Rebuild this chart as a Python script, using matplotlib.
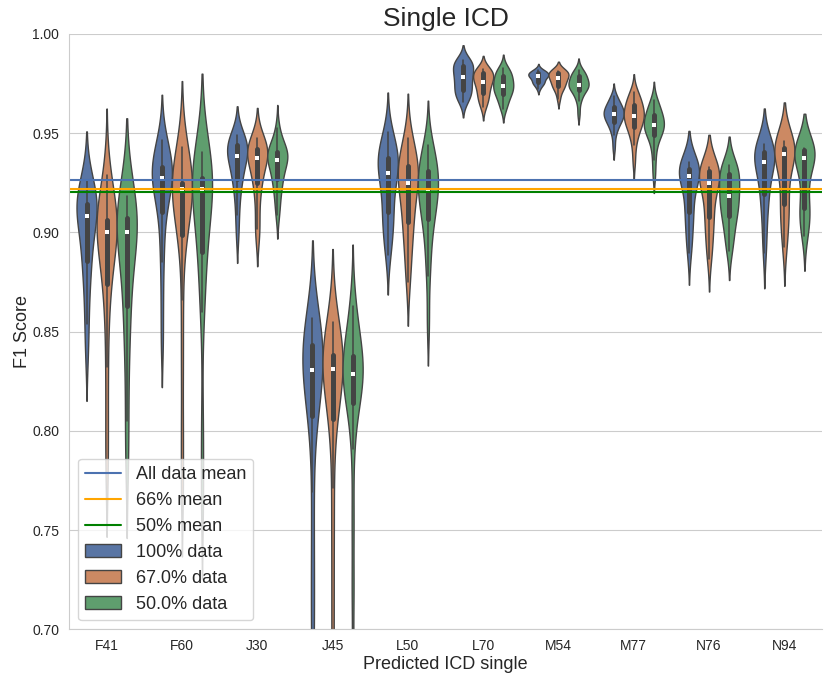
import numpy as np
import pandas as pd
import matplotlib
matplotlib.use("Agg")
import matplotlib.pyplot as plt
import seaborn as sns
from matplotlib.lines import Line2D
from matplotlib.patches import Patch

# ---------------- data ----------------
categories = ["F41", "F60", "J30", "J45", "L50", "L70", "M54", "M77", "N76", "N94"]
fractions = ["100% data", "67.0% data", "50.0% data"]

scores_100 = {
    "F41": [0.840, 0.854, 0.866, 0.876, 0.884, 0.886, 0.892, 0.898, 0.903, 0.907, 0.910, 0.912, 0.913, 0.914, 0.914, 0.915, 0.918, 0.921, 0.924, 0.926],
    "F60": [0.845, 0.866, 0.885, 0.895, 0.909, 0.911, 0.917, 0.922, 0.925, 0.927, 0.928, 0.929, 0.930, 0.931, 0.932, 0.935, 0.938, 0.941, 0.944, 0.9464],
    "J30": [0.899, 0.9086, 0.916, 0.922, 0.926, 0.9275, 0.931, 0.934, 0.936, 0.938, 0.9394, 0.940, 0.941, 0.942, 0.9435, 0.945, 0.946, 0.947, 0.948, 0.9492],
    "J45": [0.690, 0.715, 0.740, 0.7692, 0.800, 0.8099, 0.815, 0.821, 0.826, 0.830, 0.8314, 0.834, 0.837, 0.840, 0.843, 0.844, 0.847, 0.850, 0.854, 0.857],
    "L50": [0.8886, 0.895, 0.900, 0.905, 0.909, 0.9105, 0.916, 0.922, 0.926, 0.929, 0.931, 0.933, 0.935, 0.936, 0.937, 0.939, 0.941, 0.944, 0.947, 0.9506],
    "L70": [0.9655, 0.967, 0.969, 0.970, 0.971, 0.9718, 0.973, 0.975, 0.976, 0.978, 0.9784, 0.979, 0.981, 0.982, 0.984, 0.984, 0.985, 0.986, 0.986, 0.9868],
    "M54": [0.9725, 0.974, 0.975, 0.9755, 0.9757, 0.9758, 0.977, 0.978, 0.9783, 0.9785, 0.9787, 0.979, 0.9795, 0.980, 0.9802, 0.9802, 0.9806, 0.981, 0.9815, 0.982],
    "M77": [0.943, 0.9492, 0.952, 0.954, 0.9555, 0.9558, 0.957, 0.958, 0.959, 0.9595, 0.9599, 0.960, 0.961, 0.962, 0.963, 0.963, 0.964, 0.966, 0.967, 0.9687],
    "N76": [0.8895, 0.895, 0.900, 0.905, 0.910, 0.9107, 0.915, 0.920, 0.924, 0.928, 0.9292, 0.930, 0.931, 0.931, 0.932, 0.932, 0.933, 0.934, 0.934, 0.9353],
    "N94": [0.8895, 0.898, 0.906, 0.913, 0.918, 0.9195, 0.924, 0.929, 0.932, 0.935, 0.9364, 0.937, 0.938, 0.939, 0.9405, 0.941, 0.942, 0.943, 0.944, 0.9448],
}
scores_67 = {
    "F41": [0.780, 0.805, 0.832, 0.855, 0.872, 0.875, 0.884, 0.892, 0.897, 0.899, 0.901, 0.903, 0.904, 0.905, 0.906, 0.907, 0.911, 0.915, 0.921, 0.929],
    "F60": [0.770, 0.800, 0.835, 0.866, 0.898, 0.899, 0.905, 0.912, 0.918, 0.921, 0.923, 0.924, 0.924, 0.924, 0.925, 0.925, 0.930, 0.935, 0.939, 0.943],
    "J30": [0.898, 0.9019, 0.910, 0.918, 0.924, 0.925, 0.929, 0.933, 0.935, 0.937, 0.9382, 0.939, 0.940, 0.941, 0.942, 0.942, 0.944, 0.945, 0.946, 0.9477],
    "J45": [0.685, 0.715, 0.745, 0.7711, 0.800, 0.808, 0.815, 0.822, 0.827, 0.831, 0.8316, 0.833, 0.835, 0.836, 0.838, 0.838, 0.842, 0.846, 0.851, 0.8551],
    "L50": [0.8752, 0.884, 0.892, 0.899, 0.904, 0.9056, 0.911, 0.917, 0.921, 0.924, 0.9256, 0.927, 0.929, 0.931, 0.933, 0.9345, 0.937, 0.940, 0.944, 0.9477],
    "L70": [0.963, 0.965, 0.967, 0.968, 0.970, 0.9703, 0.972, 0.974, 0.975, 0.9758, 0.9762, 0.977, 0.978, 0.979, 0.980, 0.9808, 0.981, 0.981, 0.982, 0.9824],
    "M54": [0.967, 0.970, 0.972, 0.973, 0.9738, 0.9739, 0.975, 0.976, 0.977, 0.9775, 0.9779, 0.978, 0.979, 0.980, 0.9805, 0.9805, 0.981, 0.981, 0.9812, 0.9815],
    "M77": [0.936, 0.9439, 0.948, 0.951, 0.953, 0.9535, 0.955, 0.957, 0.958, 0.9584, 0.9588, 0.960, 0.961, 0.962, 0.964, 0.9645, 0.966, 0.968, 0.969, 0.9706],
    "N76": [0.8866, 0.892, 0.897, 0.902, 0.907, 0.9078, 0.912, 0.917, 0.921, 0.924, 0.9256, 0.927, 0.929, 0.930, 0.931, 0.9315, 0.9318, 0.932, 0.9324, 0.9328],
    "N94": [0.8924, 0.898, 0.904, 0.910, 0.914, 0.9144, 0.921, 0.928, 0.934, 0.9392, 0.9398, 0.940, 0.941, 0.941, 0.942, 0.9435, 0.944, 0.945, 0.9455, 0.9462],
}
scores_50 = {
    "F41": [0.785, 0.805, 0.830, 0.848, 0.860, 0.864, 0.876, 0.888, 0.895, 0.899, 0.901, 0.903, 0.905, 0.906, 0.907, 0.908, 0.911, 0.914, 0.916, 0.9185],
    "F60": [0.765, 0.800, 0.860, 0.872, 0.888, 0.8905, 0.898, 0.908, 0.915, 0.921, 0.923, 0.924, 0.925, 0.926, 0.927, 0.929, 0.932, 0.935, 0.938, 0.9405],
    "J30": [0.9086, 0.914, 0.919, 0.923, 0.926, 0.927, 0.930, 0.933, 0.935, 0.936, 0.9372, 0.938, 0.939, 0.940, 0.9405, 0.9405, 0.942, 0.944, 0.947, 0.9525],
    "J45": [0.680, 0.720, 0.755, 0.7908, 0.810, 0.8155, 0.819, 0.823, 0.826, 0.828, 0.8288, 0.830, 0.833, 0.835, 0.8375, 0.838, 0.843, 0.850, 0.857, 0.8628],
    "L50": [0.855, 0.878, 0.888, 0.897, 0.905, 0.9072, 0.911, 0.915, 0.918, 0.920, 0.9216, 0.923, 0.926, 0.929, 0.9305, 0.932, 0.935, 0.938, 0.941, 0.9443],
    "L70": [0.962, 0.964, 0.966, 0.968, 0.9695, 0.9698, 0.971, 0.972, 0.973, 0.9737, 0.9741, 0.975, 0.976, 0.977, 0.9785, 0.979, 0.980, 0.981, 0.982, 0.983],
    "M54": [0.960, 0.966, 0.968, 0.970, 0.9718, 0.972, 0.973, 0.9735, 0.974, 0.9742, 0.9746, 0.975, 0.976, 0.977, 0.9785, 0.9788, 0.979, 0.980, 0.981, 0.982],
    "M77": [0.929, 0.9363, 0.942, 0.946, 0.949, 0.9493, 0.951, 0.952, 0.953, 0.954, 0.9544, 0.955, 0.956, 0.958, 0.959, 0.9595, 0.961, 0.963, 0.965, 0.9668],
    "N76": [0.8905, 0.895, 0.899, 0.904, 0.9075, 0.9082, 0.911, 0.914, 0.916, 0.918, 0.9182, 0.920, 0.923, 0.926, 0.9295, 0.930, 0.931, 0.932, 0.933, 0.9338],
    "N94": [0.8981, 0.902, 0.906, 0.909, 0.912, 0.9125, 0.918, 0.925, 0.932, 0.9374, 0.9378, 0.938, 0.939, 0.940, 0.9415, 0.942, 0.942, 0.9422, 0.9423, 0.9424],
}

mean_labels = ["All data mean", "66% mean", "50% mean"]
mean_values = [0.9262, 0.9217, 0.9202]

# ---------------- build table ----------------
rows = []
for frac, table in zip(fractions, [scores_100, scores_67, scores_50]):
    for cat in categories:
        for v in table[cat]:
            rows.append((cat, frac, v))
df = pd.DataFrame(rows, columns=["ICD", "Fraction", "F1"])


def blended_bw(kde):
    """Scott factor, softened toward a robust (IQR-based) spread for long-tailed groups."""
    d = np.asarray(kde.dataset).ravel()
    sd = d.std(ddof=1)
    q1, q3 = np.percentile(d, [25, 75])
    ratio = min(1.0, (q3 - q1) / 1.349 / sd) if sd > 0 else 1.0
    return d.size ** -0.2 * np.sqrt(ratio)


# ---------------- style ----------------
sns.set_style("whitegrid")
plt.rcParams["font.family"] = ["Liberation Sans", "DejaVu Sans"]
text_color = "#262626"

palette = sns.color_palette("deep", 3)
mean_colors = ["#4c72b0", "orange", "green"]

fig = plt.figure(figsize=(8.24, 6.73), dpi=100)
ax = fig.add_axes([0.0837, 0.065, 0.9139, 0.8845])

sns.violinplot(data=df, x="ICD", y="F1", hue="Fraction", order=categories,
               hue_order=fractions, palette=palette, inner="box",
               density_norm="width", cut=2, bw_method=blended_bw,
               linewidth=1.0, linecolor="#444444",
               inner_kws=dict(box_width=3.6, whis_width=1.1, marker="s"),
               ax=ax, legend=False)

# shrink the median markers to small white dots
for ln in ax.lines:
    if ln.get_marker() == "s":
        ln.set_markersize(2.2)
        ln.set_markeredgewidth(0)
        ln.set_markerfacecolor("white")

for val, col in zip(mean_values, mean_colors):
    ax.axhline(val, color=col, linewidth=1.5)

ax.set_ylim(0.70, 1.00)
ax.set_yticks(np.arange(0.70, 1.001, 0.05))
ax.set_title("Single ICD", fontsize=19, color=text_color)
ax.set_xlabel("Predicted ICD single", fontsize=13, color=text_color, labelpad=2)
ax.set_ylabel("F1 Score", fontsize=13, color=text_color, labelpad=1)
ax.tick_params(axis="both", labelsize=10, colors=text_color)
ax.xaxis.grid(False)
sns.despine(ax=ax)

handles = [Line2D([0], [0], color=c, linewidth=1.5) for c in mean_colors]
handles += [Patch(facecolor=sns.desaturate(c, 0.75), edgecolor="#444444", linewidth=1.0)
            for c in palette]
labels = mean_labels + fractions
ax.legend(handles, labels, loc="lower left", fontsize=13, labelspacing=0.5)

fig.savefig("out.png", dpi=100)
